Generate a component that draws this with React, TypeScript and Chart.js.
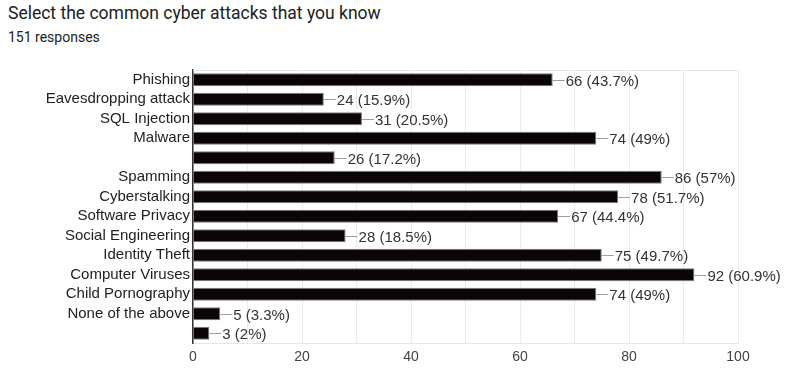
import React, { useEffect, useRef } from "react";
import { Chart, registerables } from "chart.js";

Chart.register(...registerables);

const categories = [
  "Phishing",
  "Eavesdropping attack",
  "SQL Injection",
  "Malware",
  "",
  "Spamming",
  "Cyberstalking",
  "Software Privacy",
  "Social Engineering",
  "Identity Theft",
  "Computer Viruses",
  "Child Pornography",
  "None of the above",
  " ",
];
const counts = [66, 24, 31, 74, 26, 86, 78, 67, 28, 75, 92, 74, 5, 3];
const percents = ["43.7%", "15.9%", "20.5%", "49%", "17.2%", "57%", "51.7%", "44.4%", "18.5%", "49.7%", "60.9%", "49%", "3.3%", "2%"];
const xTicks = [0, 20, 40, 60, 80, 100];

const FONT = "'Liberation Sans', Arial, sans-serif";

const valueLabels = {
  id: "valueLabels",
  afterDatasetsDraw(chart: any) {
    const ctx = chart.ctx;
    const meta = chart.getDatasetMeta(0);
    ctx.save();
    meta.data.forEach((bar: any, i: number) => {
      const x = bar.x;
      const y = Math.round(bar.y) + 0.5;
      ctx.strokeStyle = "#9e9e9e";
      ctx.lineWidth = 1;
      ctx.beginPath();
      ctx.moveTo(x, y);
      ctx.lineTo(x + 12, y);
      ctx.stroke();
      ctx.fillStyle = "#333333";
      ctx.font = `15px ${FONT}`;
      ctx.textBaseline = "middle";
      ctx.textAlign = "left";
      ctx.fillText(`${counts[i]} (${percents[i]})`, x + 13, y + 1);
    });
    ctx.restore();
  },
};

const frame = {
  id: "frame",
  beforeDatasetsDraw(chart: any) {
    const { ctx, chartArea } = chart;
    ctx.save();
    ctx.strokeStyle = "#e6e6e6";
    ctx.lineWidth = 1;
    ctx.beginPath();
    ctx.moveTo(chartArea.left, chartArea.top + 0.5);
    ctx.lineTo(chartArea.right, chartArea.top + 0.5);
    ctx.stroke();
    ctx.restore();
  },
};

export default function App() {
  const ref = useRef<HTMLCanvasElement>(null);
  useEffect(() => {
    document.body.style.margin = "0";
    const chart = new Chart(ref.current!, {
      type: "bar",
      data: {
        labels: categories,
        datasets: [
          {
            data: counts,
            backgroundColor: "#0b0505",
            borderColor: "#7a7a7a",
            borderWidth: 1,
            barPercentage: 0.67,
            categoryPercentage: 1,
          },
        ],
      },
      options: {
        indexAxis: "y",
        animation: false,
        responsive: false,
        layout: { padding: { left: 0, right: 49, top: 70, bottom: 0 } },
        plugins: { legend: { display: false }, tooltip: { enabled: false } },
        scales: {
          x: {
            min: 0,
            max: 100,
            afterFit(scale: any) {
              scale.height = 32;
            },
            afterBuildTicks(scale: any) {
              const t: any[] = [];
              for (let v = 0; v <= 100; v += 10) t.push({ value: v });
              scale.ticks = t;
            },
            ticks: {
              autoSkip: false,
              maxRotation: 0,
              padding: 6,
              color: "#444",
              font: { family: FONT, size: 14 },
              callback: (v: any) => (xTicks.includes(Number(v)) ? String(v) : ""),
            },
            grid: { color: "#ebebeb", drawTicks: false },
            border: { color: "#e6e6e6" },
          },
          y: {
            afterFit(scale: any) {
              scale.width = 193;
            },
            ticks: {
              autoSkip: false,
              padding: 3,
              color: "#222",
              font: { family: FONT, size: 15 },
            },
            grid: { display: false, drawTicks: false },
            border: { color: "#333", width: 1.5 },
          },
        },
      },
      plugins: [frame, valueLabels],
    });
    return () => chart.destroy();
  }, []);
  return (
    <div style={{ position: "relative", width: 787, height: 375, background: "#fff", overflow: "hidden" }}>
      <div
        style={{
          position: "absolute",
          left: 8,
          top: 3,
          fontFamily: "Roboto, sans-serif",
          fontSize: 17.5,
          color: "#202124",
          whiteSpace: "nowrap",
        }}
      >
        Select the common cyber attacks that you know
      </div>
      <div
        style={{
          position: "absolute",
          left: 8,
          top: 29,
          fontFamily: "Roboto, sans-serif",
          fontSize: 14,
          color: "#202124",
          whiteSpace: "nowrap",
        }}
      >
        151 responses
      </div>
      <canvas ref={ref} width={787} height={375} style={{ position: "absolute", left: 0, top: 0 }} />
    </div>
  );
}
